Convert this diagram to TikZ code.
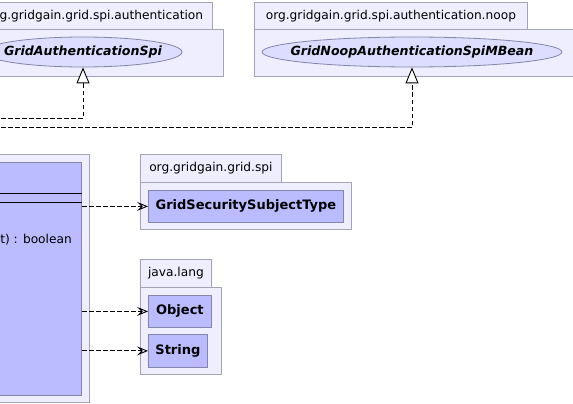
\documentclass[tikz,border=0pt]{standalone}
\usepackage{fontspec}
\setmainfont{DejaVu Sans}
\usetikzlibrary{shapes,arrows.meta,positioning,calc,fit}

\definecolor{pkgfill}{HTML}{EEEEFF}
\definecolor{pkgline}{HTML}{A4A4B8}
\definecolor{clsfill}{HTML}{BBBBFF}
\definecolor{clsline}{HTML}{8484AC}
\definecolor{ifcfill}{HTML}{DDDDFF}

\begin{document}
\begin{tikzpicture}[x=1pt,y=-1pt, font=\fontsize{12.2}{14}\selectfont,
  pkg/.style={draw=pkgline, fill=pkgfill, line width=0.8pt, inner sep=0pt, anchor=north west},
  cls/.style={draw=clsline, fill=clsfill, line width=0.8pt, inner sep=0pt, anchor=north west, font=\fontsize{13}{15}\selectfont\bfseries},
  ifc/.style={ellipse, draw=clsline, fill=ifcfill, line width=0.8pt, inner xsep=-22pt, inner ysep=0pt, minimum height=30, font=\fontsize{12.6}{14}\selectfont\bfseries\itshape},
  realize/.style={line width=0.9pt, dash pattern=on 4.5pt off 2.5pt, -{Triangle[length=16pt,width=13pt,fill=white,line width=0.9pt]}},
  usage/.style={line width=0.9pt, dash pattern=on 4.5pt off 2.5pt, -{Stealth[open,length=11pt,width=9pt,inset=4.5pt,line width=0.9pt]}}]
  \useasboundingbox (0,0) rectangle (573,404);

  % implementing class, cut off at the left
  \node[pkg, anchor=north east, minimum width=220, minimum height=248] (implpkg) at (90,154) {};
  \node[cls, anchor=north east, minimum width=200, minimum height=233] (impl) at (82,162) {};
  \draw[line width=0.8pt] (impl.west |- 0,193) -- (impl.east |- 0,193);
  \draw[line width=0.8pt] (impl.west |- 0,202) -- (impl.east |- 0,202);
  \node[anchor=base east, inner sep=0pt] (retlbl) at (72,243) {t) : boolean};

  % package org.gridgain.grid.spi.authentication
  \node[pkg, anchor=north east, minimum height=27, inner xsep=9.5pt] (authtab) at (213,2) {org.gridgain.grid.spi.authentication};
  \node[pkg, anchor=north east, minimum width=280, minimum height=47] (authbody) at (224,29) {};
  \node[ifc, minimum width=198] (authspi) at (83,52) {GridAuthenticationSpi};

  % package org.gridgain.grid.spi.authentication.noop
  \node[pkg, minimum width=273, minimum height=27] (nooptab) at (254,2) {org.gridgain.grid.spi.authentication.noop};
  \node[pkg, minimum width=340, minimum height=47] (noopbody) at (254,29) {};
  \node[ifc, minimum width=300] (noopspi) at (412,52) {GridNoopAuthenticationSpiMBean};

  % package org.gridgain.grid.spi
  \node[pkg, minimum width=141, minimum height=28] (spitab) at (140,154) {org.gridgain.grid.spi};
  \node[pkg, minimum width=211, minimum height=47] (spibody) at (140,182) {};
  \node[cls, minimum width=195, minimum height=32] (subjtype) at (148,190) {GridSecuritySubjectType};

  % package java.lang
  \node[pkg, minimum width=71, minimum height=28] (langtab) at (140,259) {java.lang};
  \node[pkg, minimum width=81, minimum height=87] (langbody) at (140,287) {};
  \node[cls, minimum width=63, minimum height=32] (object) at (148,295) {Object};
  \node[cls, minimum width=59, minimum height=33] (string) at (148,334) {String};

  % connectors
  \coordinate (fromA) at (-20,118);
  \coordinate (fromB) at (-20,127);
  \draw[realize] (fromA) -| (authspi.south);
  \draw[realize] (fromB) -| (noopspi.south);
  \draw[usage] (subjtype -| impl.east) -- (subjtype.west);
  \draw[usage] (object -| impl.east) -- (object.west);
  \draw[usage] (string -| impl.east) -- (string.west);
\end{tikzpicture}
\end{document}
